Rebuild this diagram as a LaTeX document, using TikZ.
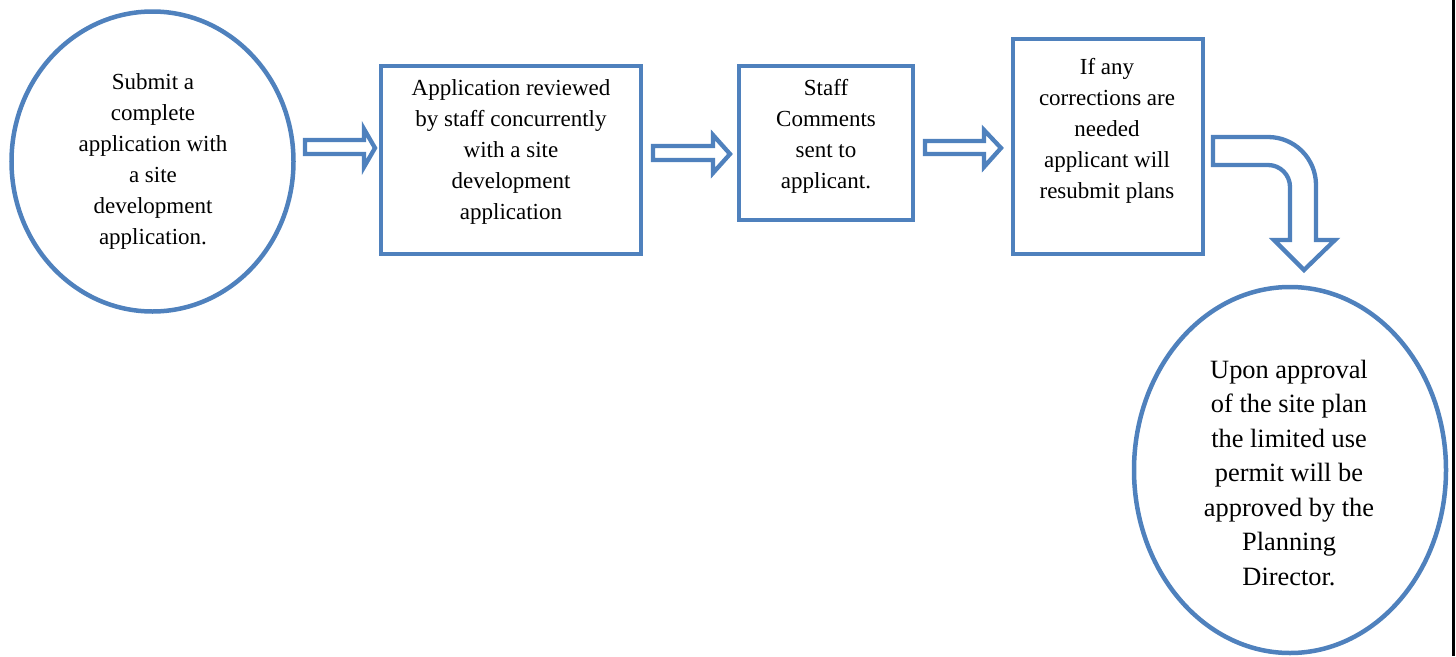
\documentclass[tikz,border=0pt]{standalone}
\usepackage{fontspec}
\setmainfont{Liberation Serif}
\usetikzlibrary{shapes.geometric}
\definecolor{flowblue}{HTML}{4F81BD}
\tikzset{
  x=1pt, y=-1pt,
  stage/.style={draw=flowblue, line width=4.5pt, fill=white, inner sep=0pt},
  oval/.style={stage, ellipse},
  card/.style={stage, rectangle},
  caption/.style={align=center, inner sep=0pt, font=\fontsize{23}{31}\selectfont},
  bigcaption/.style={align=center, inner sep=0pt, font=\fontsize{26.4}{34.5}\selectfont},
  blockarrow/.style={draw=flowblue, line width=4.3pt, fill=white, line join=miter},
}
\begin{document}
\begin{tikzpicture}
\useasboundingbox (0,0) rectangle (1456,656);

% process stages
\node[oval, minimum width=282pt, minimum height=300pt] (s1) at (152.5,161.5) {};
\node[card, minimum width=260pt, minimum height=188pt] (s2) at (511,160) {};
\node[card, minimum width=174pt, minimum height=154pt] (s3) at (826,143) {};
\node[card, minimum width=190pt, minimum height=215pt] (s4) at (1108,146.5) {};
\node[oval, minimum width=312pt, minimum height=366pt] (s5) at (1290,470) {};

% stage texts
\node[caption] (t1) at (153,161) {Submit a\\complete\\application with\\a site\\development\\application.};
\node[caption] (t2) at (511,152) {Application reviewed\\by staff concurrently\\with a site\\development\\application};
\node[caption] (t3) at (826,136.5) {Staff\\Comments\\sent to\\applicant.};
\node[caption] (t4) at (1107,131) {If any\\corrections are\\needed\\applicant will\\resubmit plans};
\node[bigcaption] (t5) at (1289,473) {Upon approval\\of the site plan\\the limited use\\permit will be\\approved by the\\Planning\\Director.};

% straight block arrows between stages
\draw[blockarrow] (305,140) -- (364,140) -- (364,129) -- (375,148) -- (364,167) -- (364,154) -- (305,154) -- cycle;
\draw[blockarrow] (653,146) -- (713,146) -- (713,135) -- (730,154) -- (713,173) -- (713,160) -- (653,160) -- cycle;
\draw[blockarrow] (925,141) -- (984,141) -- (984,130) -- (1001,148) -- (984,167) -- (984,154) -- (925,154) -- cycle;

% bent block arrow down to the final stage
\draw[blockarrow] (1213,137) -- (1268,137)
  .. controls (1294.5,137) and (1316,158.5) .. (1316,185)
  -- (1316,240) -- (1335,240) -- (1304,270) -- (1274,240) -- (1290,240) -- (1290,187)
  .. controls (1290,174.8) and (1280.2,165) .. (1268,165)
  -- (1213,165) -- cycle;

% page edge rule
\draw[line width=3pt, black] (1453,0) -- (1453,656);
\end{tikzpicture}
\end{document}
